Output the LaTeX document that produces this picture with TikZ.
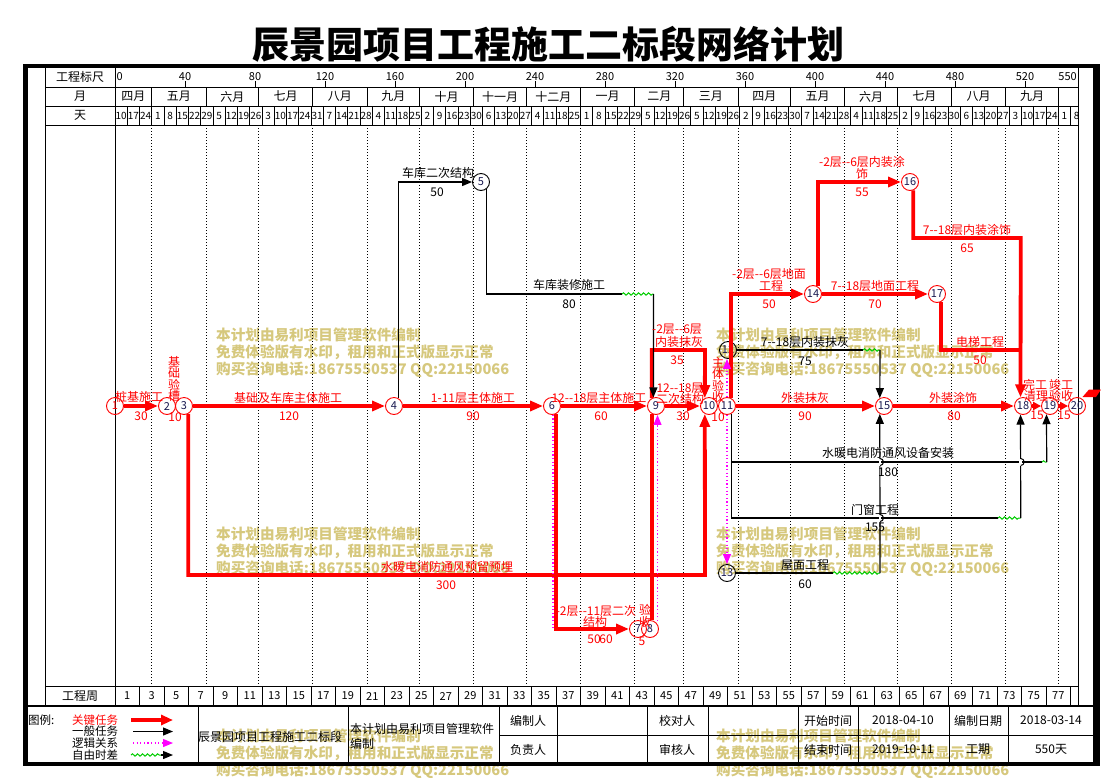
\documentclass[tikz,border=0pt]{standalone}
\usepackage{fontspec}
\setmainfont{Noto Sans CJK SC}
\usetikzlibrary{arrows.meta,decorations.pathmorphing}
\definecolor{wmc}{RGB}{214,200,125}
\definecolor{magc}{RGB}{255,0,255}
\definecolor{grnc}{RGB}{0,205,0}
\definecolor{numc}{RGB}{25,25,80}
\newcommand{\myfs}[1]{\fontsize{#1}{#1}\selectfont}
\tikzset{
 critline/.style={draw=red,line width=3.8pt},
 critarr/.style={critline,-{Triangle[length=13pt,width=10pt]}},
 critarrs/.style={critline,-{Triangle[length=8pt,width=8pt]}},
 normline/.style={draw=black,line width=1.2pt},
 normarr/.style={normline,-{Triangle[length=10pt,width=8pt]}},
 logicline/.style={draw=magc,line width=1.2pt,dash pattern=on 1.2pt off 2.4pt},
 logicarr/.style={logicline,-{Triangle[length=10pt,width=8pt]}},
 freeline/.style={draw=grnc,line width=1pt,decorate,decoration={snake,amplitude=1.2pt,segment length=5pt}},
 ev/.style={circle,draw=red,line width=0.9pt,minimum size=17pt,inner sep=0pt,font=\myfs{11},text=numc},
 evk/.style={ev,draw=black},
 lb/.style={inner sep=0pt,font=\myfs{12}},
 rlb/.style={lb,text=red},
 vlb/.style={inner sep=0pt,text=red,align=center,font=\fontsize{12}{11.5}\selectfont},
 gridl/.style={draw=black,line width=0.8pt,dash pattern=on 1pt off 2pt},
 thinl/.style={draw=black,line width=0.8pt},
 wmk/.style={inner sep=0pt,anchor=west,text=wmc,font=\myfs{14.6}\bfseries},
 hd/.style={inner sep=0pt,font=\myfs{12}},
 dayl/.style={inner sep=0pt,font=\myfs{10}},
 legt/.style={inner sep=0pt,font=\myfs{11.5},anchor=west},
}
\begin{document}
\begin{tikzpicture}[x=1pt,y=-1pt]
\useasboundingbox (0,0) rectangle (1101,777);
\fill[white] (0,0) rectangle (1101,777);
% title
\node[inner sep=0pt,font=\myfs{37}\bfseries] (title) at (548,44) {辰景园项目工程施工二标段网络计划};
% watermarks
\foreach \wx/\wy [count=\k] in {216/335,716/335,216/534,716/534,216/736,716/736}{
 \node[wmk] (wa\k) at (\wx,\wy) {本计划由易利项目管理软件编制};
 \node[wmk] (wb\k) at (\wx,\wy+17.5) {免费体验版有水印，租用和正式版显示正常};
 \node[wmk] (wc\k) at (\wx,\wy+35) {购买咨询电话:18675550537 QQ:22150066};
}
% grid
\foreach \d in {21,52,82,113,144,174,205,235,266,297,325,356,386,417,447,478,509,539}{
 \draw[gridl] ({115+1.75*\d},125) -- ({115+1.75*\d},686);
}
% header / table lines
\draw[thinl] (45,66) -- (45,706);
\draw[thinl] (115,66) -- (115,706);
\draw[thinl] (1078,66) -- (1078,706);
\draw[thinl] (45,87) -- (1078,87);
\draw[thinl] (45,106) -- (1078,106);
\draw[thinl] (45,125) -- (1078,125);
\draw[thinl] (45,686) -- (1078,686);
\node[hd] (h1) at (80,76.5) {工程标尺};
\node[hd] (h2) at (80,96.5) {月};
\node[hd] (h3) at (80,115.5) {天};
\node[hd] (h4) at (80,696) {工程周};
% scale
\node[inner sep=0pt,font=\myfs{11},anchor=west] (s0) at (116.5,76.5) {0};
\foreach \k in {1,...,13}{
 \draw[thinl] ({115+70*\k},81) -- ({115+70*\k},87);
 \pgfmathtruncatemacro{\sv}{40*\k}
 \node[inner sep=0pt,font=\myfs{11}] (s\k) at ({115+70*\k},76.5) {\sv};
}
\node[inner sep=0pt,font=\myfs{11},anchor=east] (s14) at (1077,76.5) {550};
% months
\foreach \a/\b/\t [count=\k] in {0/21/四月,21/52/五月,52/82/六月,82/113/七月,113/144/八月,144/174/九月,174/205/十月,205/235/十一月,235/266/十二月,266/297/一月,297/325/二月,325/356/三月,356/386/四月,386/417/五月,417/447/六月,447/478/七月,478/509/八月,509/539/九月,539/550/{}}{
 \draw[thinl] ({115+1.75*\a},87) -- ({115+1.75*\a},106);
 \node[hd] (mo\k) at ({115+1.75*(\a+\b)/2},96.5) {\t};
}
% days
\foreach \d [count=\i from 0] in {10,17,24,1,8,15,22,29,5,12,19,26,3,10,17,24,31,7,14,21,28,4,11,18,25,2,9,16,23,30,6,13,20,27,4,11,18,25,1,8,15,22,29,5,12,19,26,5,12,19,26,2,9,16,23,30,7,14,21,28,4,11,18,25,2,9,16,23,30,6,13,20,27,3,10,17,24,1,8}{
 \draw[thinl] ({115+12.25*\i},106) -- ({115+12.25*\i},125);
 \node[dayl] (dy\i) at ({115+12.25*\i+6.125},115.5) {\d};
}
% weeks
\foreach \i in {0,...,38}{
 \draw[thinl] ({115+24.5*\i},686) -- ({115+24.5*\i},706);
 \pgfmathtruncatemacro{\wv}{2*\i+1}
 \node[inner sep=0pt,font=\myfs{11}] (wk\i) at ({115+24.5*\i+12.25},696) {\wv};
}
\draw[thinl] (1070.5,686) -- (1070.5,706);
% legend table
\foreach \x in {198,348.6,499,557,647.5,708,798,858,949,1008}{
 \draw[thinl] (\x,706) -- (\x,764);
}
\draw[thinl] (499,735) -- (1094,735);
\node[legt] (lg0) at (28,720) {图例:};
\node[legt,text=red] (lg1) at (72,720) {关键任务};
\node[legt] (lg2) at (72,731.5) {一般任务};
\node[legt] (lg3) at (72,743) {逻辑关系};
\node[legt] (lg4) at (72,755) {自由时差};
\coordinate (la1) at (131,720); \coordinate (lb1) at (173,720);
\coordinate (la2) at (133,731.5); \coordinate (lb2) at (173,731.5);
\coordinate (la3) at (133,743); \coordinate (lb3) at (173,743);
\coordinate (la4) at (131,755); \coordinate (lm4) at (161,755); \coordinate (lb4) at (173,755);
\draw[critline,line width=3.5pt,-{Triangle[length=12pt,width=10pt]}] (la1) -- (lb1);
\draw[normarr] (la2) -- (lb2);
\draw[logicarr] (la3) -- (lb3);
\draw[freeline] (la4) -- (lm4);
\draw[normarr] (lm4) -- (lb4);
\node[lb] (t1) at (270,737) {辰景园项目工程施工二标段};
\node[lb,anchor=west] (t2) at (350,729) {本计划由易利项目管理软件};
\node[lb,anchor=west] (t3) at (350,744) {编制};
\node[lb] (t4) at (528,720.5) {编制人};
\node[lb] (t5) at (528,749.5) {负责人};
\node[lb] (t6) at (677,720.5) {校对人};
\node[lb] (t7) at (677,749.5) {审核人};
\node[lb] (t8) at (828,720.5) {开始时间};
\node[lb] (t9) at (828,749.5) {结束时间};
\node[lb] (t10) at (903,720.5) {2018-04-10};
\node[lb] (t11) at (903,749.5) {2019-10-11};
\node[lb] (t12) at (978,720.5) {编制日期};
\node[lb] (t13) at (978,749.5) {工期};
\node[lb] (t14) at (1051,720.5) {2018-03-14};
\node[lb] (t15) at (1051,749.5) {550天};
% events
\node[ev,text=red] (n1) at (115,406) {1};
\node[ev] (n2) at (167,406) {2};
\node[ev] (n3) at (184,406) {3};
\node[ev] (n4) at (394,406) {4};
\node[evk] (n5) at (481,182) {5};
\node[ev] (n6) at (552,406) {6};
\node[ev] (n7) at (638,629) {7};
\node[ev] (n8) at (650,629) {8};
\node[ev] (n9) at (656,406) {9};
\node[ev] (n10) at (709,406) {10};
\node[ev] (n11) at (727,406) {11};
\node[evk] (n12) at (728,350) {12};
\node[evk] (n13) at (727,573) {13};
\node[ev] (n14) at (813,294) {14};
\node[ev] (n15) at (884,406) {15};
\node[ev] (n16) at (910,182) {16};
\node[ev] (n17) at (937,294) {17};
\node[ev] (n18) at (1023,406) {18};
\node[ev] (n19) at (1050,406) {19};
\node[ev] (n20) at (1077,406) {20};
% critical
\draw[critarr] (n1) -- (n2);
\draw[critarr] (n3) -- (n4);
\draw[critarr] (n4) -- (n6);
\draw[critarr] (n6) -- (n9);
\draw[critarr] (n9) -- (n10);
\draw[critarr] (n11) -- (n15);
\draw[critarr] (n15) -- (n18);
\draw[critarrs] (n18) -- (n19);
\draw[critarrs] (n19) -- (n20);
\coordinate (k3) at (705,575);
\draw[critarr] (n3.-62) |- (k3) -- (n10.-118);
\draw[critarr] (n6.-62) |- (n7);
\draw[critline] (n9.-118) -- (n9.-118 |- n8.north);
\coordinate (k9) at (705,350);
\draw[critarr] (n9.118) |- (k9) -- (n10.118);
\draw[critarr] (n11.62) |- (n14);
\draw[critarr] (n14.57) |- (n16);
\draw[critarr] (n14) -- (n17);
\coordinate (k16) at (1020.7,238);
\draw[critarr] (n16.-69) |- (k16) -- (n18.106);
\coordinate (k17) at (1020.7,350);
\draw[critline] (n17.-62) |- (k17);
% normal
\draw[normarr] (n4.62) |- (n5);
\coordinate (w1a) at (622,294); \coordinate (w1b) at (653.5,294);
\draw[normline] (n5.-54) |- (w1a);
\draw[freeline] (w1a) -- (w1b);
\draw[normarr] (w1b) -- (n9.107);
\coordinate (w6a) at (863,350); \coordinate (w6b) at (880,350);
\draw[normline] (n12) -- (w6a);
\draw[freeline] (w6a) -- (w6b);
\draw[normarr] (w6b) -- (n15.118);
\coordinate (w3a) at (1042,462); \coordinate (w3b) at (1046.7,462);
\draw[normline] (n11.-62) |- (w3a);
\draw[freeline] (w3a) -- (w3b);
\draw[normarr] (w3b) -- (n19.-113);
\coordinate (w4a) at (998,518); \coordinate (w4b) at (1020.7,518);
\draw[normline] (n11.-62) |- (w4a);
\draw[freeline] (w4a) -- (w4b);
\draw[normarr] (w4b) -- (n18.-106);
\coordinate (w5a) at (833,573); \coordinate (w5b) at (880,573);
\draw[normline] (n13) -- (w5a);
\draw[freeline] (w5a) -- (w5b);
\draw[normarr] (w5b) -- (n15.-118);
% jumps
\foreach \jx/\jy in {880/462,880/518,1020.7/462}{
 \draw[white,line width=2.5pt] (\jx,\jy-3.5) -- (\jx,\jy+3.5);
 \draw[black,line width=1pt] (\jx,\jy-3.5) arc[start angle=-90,end angle=90,radius=3.5];
}
% logic
\draw[logicarr] (n11.north) -- (n11.north |- n12.south);
\draw[logicarr] (n11.south) -- (n13.north);
\draw[logicline] (n6.-83) -- (n6.-83 |- n7);
\coordinate (m8) at (657.5,621);
\draw[logicarr] (m8) -- (m8 |- n9.south);
% labels red
\node[rlb] (L1) at (139,397) {桩基施工};
\node[rlb] (D1) at (141,416) {30};
\node[vlb] (L2) at (174,379) {基\\础\\验\\槽};
\node[rlb] (D2) at (175,417) {10};
\node[rlb] (L3) at (288,398) {基础及车库主体施工};
\node[rlb] (D3) at (289,416) {120};
\node[rlb] (L4) at (473,398) {1-11层主体施工};
\node[rlb] (D4) at (473,416) {90};
\node[rlb] (L5) at (599,398) {12-{}-18层主体施工};
\node[rlb] (D5) at (601,416) {60};
\node[rlb] (L6a) at (680,388) {12-{}-18层};
\node[rlb] (L6b) at (680,399) {二次结构};
\node[rlb] (D6) at (683,416) {30};
\node[vlb] (L7) at (718,380) {主\\体\\验\\收};
\node[rlb] (D7) at (718,417) {10};
\node[rlb] (L8) at (447,567) {水暖电消防通风预留预埋};
\node[rlb] (D8) at (446,585) {300};
\node[rlb] (L9a) at (677,329) {-2层-{}-6层};
\node[rlb] (L9b) at (679,342) {内装抹灰};
\node[rlb] (D9) at (677,360) {35};
\node[rlb] (L10a) at (596,611) {-2层-{}-11层二次};
\node[rlb] (L10b) at (595,622) {结构};
\node[vlb] (L11) at (645,616) {验\\收};
\node[rlb] (D10a) at (594,639) {50};
\node[rlb] (D10b) at (606,639) {60};
\node[rlb] (D11) at (642,641) {5};
\node[rlb] (L12a) at (769,274) {-2层-{}-6层地面};
\node[rlb] (L12b) at (771,286) {工程};
\node[rlb] (D12) at (769,304) {50};
\node[rlb] (L13a) at (862,162) {-2层-{}-6层内装涂};
\node[rlb] (L13b) at (862,174) {饰};
\node[rlb] (D13) at (862,192) {55};
\node[rlb] (L14) at (967,230) {7-{}-18层内装涂饰};
\node[rlb] (D14) at (967,248) {65};
\node[rlb] (L15) at (875,286) {7-{}-18层地面工程};
\node[rlb] (D15) at (875,304) {70};
\node[rlb] (L16) at (980,342) {电梯工程};
\node[rlb] (D16) at (980,360) {50};
\node[rlb] (L17) at (805,398) {外装抹灰};
\node[rlb] (D17) at (805,416) {90};
\node[rlb] (L18) at (953,398) {外装涂饰};
\node[rlb] (D18) at (954,416) {80};
\node[rlb] (L19a) at (1035,385) {完工};
\node[rlb] (L19b) at (1036,396) {清理};
\node[rlb] (L20a) at (1061,385) {竣工};
\node[rlb] (L20b) at (1061,396) {验收};
\node[rlb] (D19) at (1037,415) {15};
\node[rlb] (D20) at (1064,415) {15};
% labels black
\node[lb] (B1) at (438,173) {车库二次结构};
\node[lb] (E1) at (437,192) {50};
\node[lb] (B2) at (569,285) {车库装修施工};
\node[lb] (E2) at (569,304) {80};
\node[lb] (B3) at (805,342) {7-{}-18层内装抹灰};
\node[lb] (E3) at (805,361) {75};
\node[lb] (B4) at (888,453) {水暖电消防通风设备安装};
\node[lb] (E4) at (888,472) {180};
\node[lb] (B5) at (875,510) {门窗工程};
\node[lb] (E5) at (875,527) {155};
\node[lb] (B6) at (805,565) {屋面工程};
\node[lb] (E6) at (805,584) {60};
% frame
\draw[black,line width=2pt] (25,706) -- (1094,706);
\draw[black,line width=4.5pt] (25.5,764) -- (25.5,66) -- (1094,66);
\draw[black,line width=4.5pt] (23.25,764) -- (1094,764);
\fill[black] (1093,63.75) rectangle (1100,766.25);
\fill[red] (1082.5,397) -- (1089,389.5) -- (1101,389.5) -- (1096,397) -- cycle;
\end{tikzpicture}
\end{document}
